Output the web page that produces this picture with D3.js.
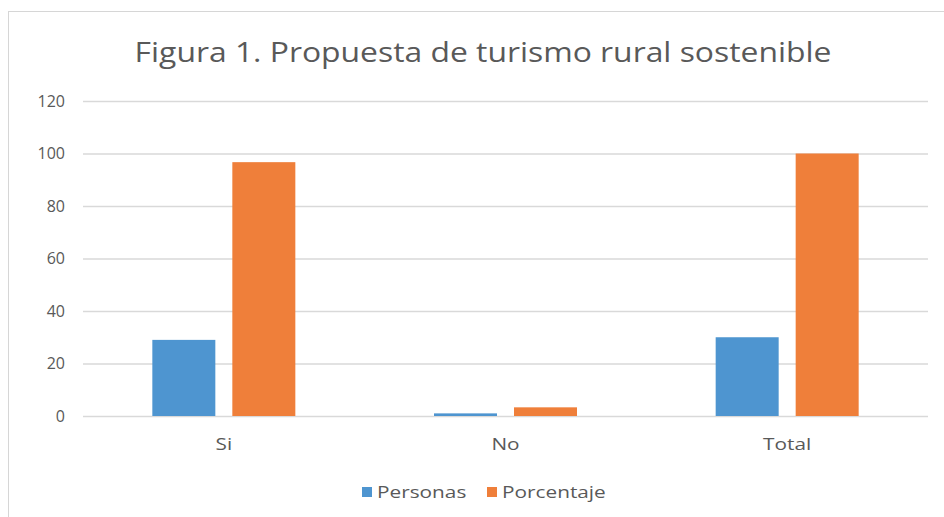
<!DOCTYPE html>
<html>
<head>
<meta charset="utf-8">
<script src="https://cdn.jsdelivr.net/npm/d3@7"></script>
<style>
  body { margin: 0; background: #fff; }
  svg { font-family: "Open Sans", "Noto Sans", sans-serif; }
</style>
</head>
<body>
<div id="chart"></div>
<script>
const categories = ['Si', 'No', 'Total'];
const seriesNames = ['Personas', 'Porcentaje'];
const personas = [29, 1, 30];
const porcentaje = [96.7, 3.3, 100];
const yTicks = [0, 20, 40, 60, 80, 100, 120];
const colors = ['#4e95d0', '#ef7f3a'];

const W = 944, H = 517;
const svg = d3.select('#chart').append('svg')
  .attr('width', W).attr('height', H);

// chart frame
svg.append('rect')
  .attr('x', 8.5).attr('y', 11.5)
  .attr('width', 960).attr('height', 600)
  .attr('fill', '#fff').attr('stroke', '#d6d6d6');

const plotLeft = 83, plotRight = 928, plotTop = 101, plotBottom = 416;

const x = d3.scaleBand().domain(categories).range([plotLeft, plotRight]);
const y = d3.scaleLinear().domain([0, 120]).range([plotBottom, plotTop]);

// gridlines
svg.append('g').selectAll('line')
  .data(yTicks).enter().append('line')
  .attr('x1', plotLeft).attr('x2', plotRight)
  .attr('y1', d => y(d) + 0.5).attr('y2', d => y(d) + 0.5)
  .attr('stroke', '#d9d9d9').attr('stroke-width', 1.3);

// y labels
svg.append('g').selectAll('text')
  .data(yTicks).enter().append('text')
  .attr('x', 65).attr('y', d => y(d))
  .attr('dy', '0.35em')
  .attr('text-anchor', 'end')
  .style('font-size', '16px').style('fill', '#595959')
  .text(d => d);

// bars
const data = [];
categories.forEach((c, i) => {
  data.push({ cat: c, s: 0, v: personas[i] });
  data.push({ cat: c, s: 1, v: porcentaje[i] });
});
const barW = 63, gap = 17;
svg.append('g').selectAll('rect')
  .data(data).enter().append('rect')
  .attr('x', d => x(d.cat) + x.bandwidth() / 2 + (d.s === 0 ? -(barW + gap / 2) : gap / 2))
  .attr('y', d => y(d.v))
  .attr('width', barW)
  .attr('height', d => y(0) - y(d.v))
  .attr('fill', d => colors[d.s]);

// x labels (stretched a bit wider, like the source)
svg.append('g').selectAll('text')
  .data(categories).enter().append('text')
  .attr('transform', d => 'translate(' + (x(d) + x.bandwidth() / 2) + ',450) scale(1.3,1)')
  .attr('text-anchor', 'middle')
  .style('font-size', '16px').style('fill', '#595959')
  .text(d => d);

// title
svg.append('text')
  .attr('transform', 'translate(483,62) scale(1.18,1)')
  .attr('text-anchor', 'middle')
  .style('font-size', '27px').style('fill', '#595959')
  .text('Figura 1. Propuesta de turismo rural sostenible');

// legend
const legendX = [362, 487];
const lg = svg.append('g').selectAll('g')
  .data(seriesNames).enter().append('g')
  .attr('transform', (d, i) => 'translate(' + legendX[i] + ',487)');
lg.append('rect').attr('width', 10).attr('height', 10)
  .attr('fill', (d, i) => colors[i]);
lg.append('text')
  .attr('transform', 'translate(15,5) scale(1.3,1)')
  .attr('dy', '0.35em')
  .style('font-size', '16px').style('fill', '#595959')
  .text(d => d);
</script>
</body>
</html>
